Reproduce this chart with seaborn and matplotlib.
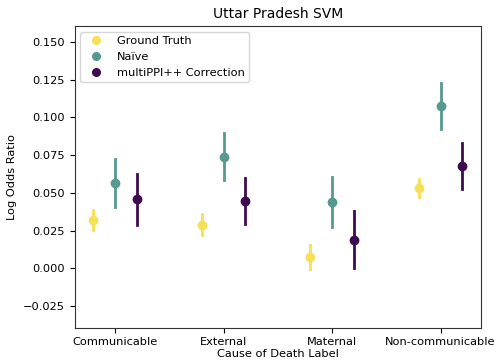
import matplotlib
matplotlib.use("Agg")
import matplotlib.pyplot as plt
import seaborn as sns
import pandas as pd
import numpy as np

categories = ["Communicable", "External", "Maternal", "Non-communicable"]
methods = ["Ground Truth", "Naïve", "multiPPI++ Correction"]
gt_mean = [0.032, 0.029, 0.0075, 0.0535]
gt_err = [0.0067, 0.007, 0.008, 0.006]
naive_mean = [0.0566, 0.0740, 0.0440, 0.1074]
naive_err = [0.0160, 0.0155, 0.0165, 0.0153]
corr_mean = [0.0457, 0.0446, 0.0190, 0.0678]
corr_err = [0.0170, 0.0150, 0.0190, 0.0150]
colors = ["#f5e056", "#56998f", "#3d0c50"]

rows = []
for m, means, errs in [(methods[0], gt_mean, gt_err),
                       (methods[1], naive_mean, naive_err),
                       (methods[2], corr_mean, corr_err)]:
    for c, mu, e in zip(categories, means, errs):
        rows.append({"cat": c, "method": m, "val": mu - e})
        rows.append({"cat": c, "method": m, "val": mu + e})
df = pd.DataFrame(rows)

fig = plt.figure(figsize=(4.96, 3.6), dpi=100)
ax = fig.add_axes([0.1506, 0.0897, 0.8185, 0.8381])
sns.pointplot(data=df, x="cat", y="val", hue="method", order=categories,
              hue_order=methods, palette=colors, dodge=0.4, linestyle="none",
              errorbar=lambda x: (x.min(), x.max()), markers="o",
              markersize=5, err_kws={"linewidth": 2.0}, ax=ax)
ax.set_xlim(-0.372, 3.37)
ax.set_ylim(-0.0394, 0.1606)
ax.set_yticks([-0.025, 0.0, 0.025, 0.05, 0.075, 0.1, 0.125, 0.15])
ax.tick_params(labelsize=8.2)
ax.set_title("Uttar Pradesh SVM", fontsize=10)
ax.set_xlabel("Cause of Death Label", fontsize=8.2, labelpad=1)
ax.set_ylabel("Log Odds Ratio", fontsize=8.2)
for s in ax.spines.values():
    s.set_color("#333333")

handles = [plt.Line2D([], [], marker="o", linestyle="none", color=c, markersize=5.5) for c in colors]
ax.legend(handles, methods, loc="upper left", fontsize=8.2, frameon=True)

fig.savefig("out.png", dpi=100)
